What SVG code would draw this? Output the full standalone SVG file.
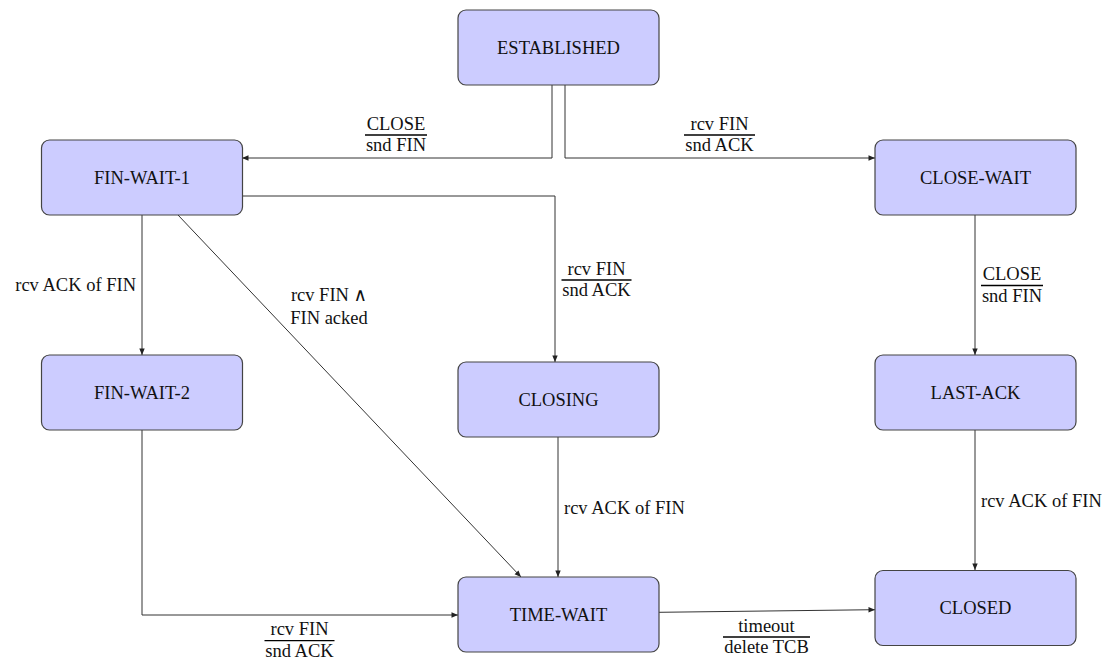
<svg xmlns="http://www.w3.org/2000/svg" width="1110" height="659" viewBox="0 0 1110 659">
<style>
.node rect{fill:#ccccff;stroke:#444;stroke-width:1.2}
text{font-family:"Liberation Serif","DejaVu Serif",serif;font-size:18.5px;fill:#111}
.c{text-anchor:middle}
.conn path{fill:none;stroke:#333;stroke-width:1}
.bar{stroke:#000;stroke-width:1.3}
</style>
<defs>
<marker id="ah" markerUnits="userSpaceOnUse" markerWidth="8" markerHeight="8" refX="7" refY="4" orient="auto">
<path d="M0.5,1.3 L7,4 L0.5,6.7 Z" fill="#222"/>
</marker>
</defs>
<rect width="1110" height="659" fill="#fff"/>
<g class="conn">
<path d="M552,85 V158 H242" marker-end="url(#ah)"/>
<path d="M565,85 V158 H875" marker-end="url(#ah)"/>
<path d="M142,215 V355" marker-end="url(#ah)"/>
<path d="M242,196 H555 V362" marker-end="url(#ah)"/>
<path d="M178,215 L521,577" marker-end="url(#ah)"/>
<path d="M142,430 V615 H458" marker-end="url(#ah)"/>
<path d="M558,437 V577" marker-end="url(#ah)"/>
<path d="M975,215 V355" marker-end="url(#ah)"/>
<path d="M975,430 V570" marker-end="url(#ah)"/>
<path d="M659,612.3 L875,609.7" marker-end="url(#ah)"/>
</g>
<g id="labels">
<text class="c" x="396" y="129.5">CLOSE</text>
<line class="bar" x1="365" y1="135" x2="427" y2="135"/>
<text class="c" x="396" y="151">snd FIN</text>
<text class="c" x="719.5" y="129.5">rcv FIN</text>
<line class="bar" x1="684" y1="135" x2="755" y2="135"/>
<text class="c" x="719.5" y="151">snd ACK</text>
<text x="136" y="291" text-anchor="end">rcv ACK of FIN</text>
<text class="c" x="329" y="301">rcv FIN ∧</text>
<text class="c" x="329" y="324">FIN acked</text>
<text class="c" x="596.5" y="274.5">rcv FIN</text>
<line class="bar" x1="561.5" y1="280" x2="631.5" y2="280"/>
<text class="c" x="596.5" y="296">snd ACK</text>
<text class="c" x="1012" y="280">CLOSE</text>
<line class="bar" x1="981" y1="285.5" x2="1043" y2="285.5"/>
<text class="c" x="1012" y="302">snd FIN</text>
<text x="564" y="514">rcv ACK of FIN</text>
<text x="981" y="507">rcv ACK of FIN</text>
<text class="c" x="299.5" y="635">rcv FIN</text>
<line class="bar" x1="264.5" y1="640.7" x2="334.5" y2="640.7"/>
<text class="c" x="299.5" y="656.5">snd ACK</text>
<text class="c" x="766.5" y="631.5">timeout</text>
<line class="bar" x1="723" y1="637" x2="810" y2="637"/>
<text class="c" x="766.5" y="652.5">delete TCB</text>
</g>
<g id="established" class="node"><rect x="458" y="10" width="201" height="75" rx="8"/><text class="c" x="558.5" y="53.5">ESTABLISHED</text></g>
<g id="fin-wait-1" class="node"><rect x="41.5" y="140" width="201" height="75" rx="8"/><text class="c" x="142" y="183.5">FIN-WAIT-1</text></g>
<g id="close-wait" class="node"><rect x="875" y="140" width="201" height="75" rx="8"/><text class="c" x="975.5" y="183.5">CLOSE-WAIT</text></g>
<g id="fin-wait-2" class="node"><rect x="41.5" y="355" width="201" height="75" rx="8"/><text class="c" x="142" y="398.5">FIN-WAIT-2</text></g>
<g id="closing" class="node"><rect x="458" y="362" width="201" height="75" rx="8"/><text class="c" x="558.5" y="405.5">CLOSING</text></g>
<g id="last-ack" class="node"><rect x="875" y="355" width="201" height="75" rx="8"/><text class="c" x="975.5" y="398.5">LAST-ACK</text></g>
<g id="time-wait" class="node"><rect x="458" y="577" width="201" height="75" rx="8"/><text class="c" x="558.5" y="620.5">TIME-WAIT</text></g>
<g id="closed" class="node"><rect x="875" y="570.5" width="201" height="75" rx="8"/><text class="c" x="975.5" y="614">CLOSED</text></g>
</svg>
